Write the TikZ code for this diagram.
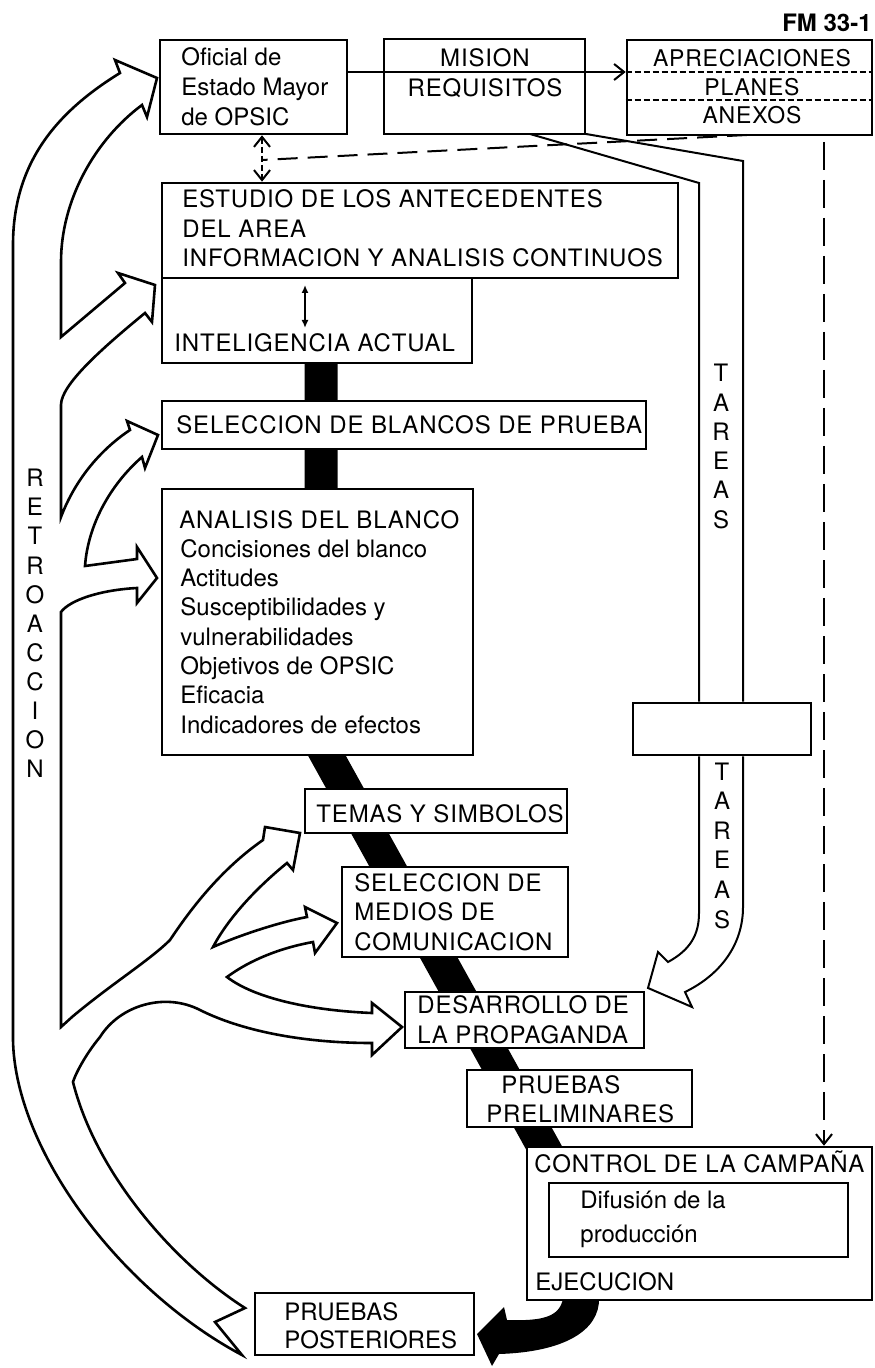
\documentclass[tikz,border=0pt]{standalone}
\usepackage{fontspec}
\setmainfont{TeX Gyre Heros}
\newfontfamily\capsfont[LetterSpace=3.5]{TeX Gyre Heros}
\newfontfamily\mixfont{TeX Gyre Heros}
\usetikzlibrary{arrows.meta,fit}
\begin{document}
\begin{tikzpicture}[x=0.5pt, y=-0.5pt]
\tikzset{>={Straight Barb[length=5pt,width=8pt,line width=1pt]}}
\tikzset{box/.style={draw, line width=1.3pt, fill=white, inner sep=0pt},
  captext/.style={anchor=base west, inner sep=0pt, font=\capsfont\fontsize{12}{14}\selectfont},
  mixtext/.style={anchor=base west, inner sep=0pt, font=\mixfont\fontsize{12}{14}\selectfont},
  feed/.style={draw, line width=1.3pt, fill=white, line join=miter},
  tline/.style={line width=1pt},
  dlong/.style={line width=1pt, dash pattern=on 10pt off 5pt},
  dvert/.style={line width=1pt, dash pattern=on 14pt off 5pt},
  dshort/.style={line width=0.8pt, dash pattern=on 3pt off 1.5pt}}
\useasboundingbox (0,0) rectangle (874,1368);
\draw[line width=16.5pt] (321,350) -- (321,745) -- (548,1155);
\fill (563,1298) .. controls (560,1318) and (540,1321) .. (507,1320) -- (504,1307) -- (477,1334) -- (492,1366) -- (499,1354) .. controls (565,1352) and (600,1330) .. (599,1298) -- cycle;
\node[box, fit={(160,40) (347,134)}] (oficial) {};
\node[box, fit={(384,39) (585,134)}] (mision) {};
\node[box, fit={(627,40) (872,135)}] (aprec) {};
\node[box, fit={(162,183) (678,278)}] (estudio) {};
\node[box, fit={(162,278) (472,363)}] (intel) {};
\node[box, fit={(162,401) (646,449)}] (blancos) {};
\node[box, fit={(162,489) (473,755)}] (analisis) {};
\node[box, fit={(633,703) (811,755)}] (tbox) {};
\node[box, fit={(305,789) (567,833)}] (temas) {};
\node[box, fit={(342,867) (568,957)}] (medios) {};
\node[box, fit={(405,992) (644,1048)}] (desarrollo) {};
\node[box, fit={(467,1070) (692,1127)}] (prelim) {};
\node[box, fit={(527,1147) (872,1300)}] (control) {};
\node[box, fit={(549,1183) (848,1257)}] (difusion) {};
\node[box, fit={(255,1293) (474,1355)}] (poster) {};
\coordinate (mrow) at (0,72);
\coordinate (prow) at (0,100);
\draw[dshort] (aprec.west |- mrow) -- (aprec.east |- mrow);
\draw[dshort] (aprec.west |- prow) -- (aprec.east |- prow);
\node[captext, anchor=base east, font=\bfseries\fontsize{12}{14}\selectfont] (fm) at (872,32) {FM 33-1};
\foreach \t [count=\i from 0] in {Oficial de, Estado Mayor, de OPSIC}
  \node[mixtext] (of\i) at (181, 66+30*\i) {\t};
\node[captext, anchor=base] (mi0) at (485,67) {MISION};
\node[captext, anchor=base] (mi1) at (485,97) {REQUISITOS};
\foreach \t [count=\i from 0] in {APRECIACIONES, PLANES, ANEXOS}
  \node[captext, anchor=base, font=\capsfont\fontsize{11.5}{14}\selectfont] (ap\i) at (752, 67+28.5*\i) {\t};
\foreach \t [count=\i from 0] in {ESTUDIO DE LOS ANTECEDENTES, DEL AREA, INFORMACION Y ANALISIS CONTINUOS}
  \node[captext] (es\i) at (182, 208+29.5*\i) {\t};
\node[captext] (in0) at (174,352) {INTELIGENCIA ACTUAL};
\node[captext] (bl0) at (176,434) {SELECCION DE BLANCOS DE PRUEBA};
\node[captext] (an0) at (179,528) {ANALISIS DEL BLANCO};
\foreach \t [count=\i] in {Concisiones del blanco, Actitudes, Susceptibilidades y, vulnerabilidades, Objetivos de OPSIC, Eficacia, Indicadores de efectos}
  \node[mixtext] (an\i) at (180, 528+29.3*\i) {\t};
\node[captext] (te0) at (316,822) {TEMAS Y SIMBOLOS};
\foreach \t [count=\i from 0] in {SELECCION DE, MEDIOS DE, COMUNICACION}
  \node[captext] (me\i) at (354, 891+29.5*\i) {\t};
\node[captext] (de0) at (417,1013) {DESARROLLO DE};
\node[captext] (de1) at (417,1043) {LA PROPAGANDA};
\node[captext] (pr0) at (501,1093) {PRUEBAS};
\node[captext] (pr1) at (486,1122) {PRELIMINARES};
\node[captext] (co0) at (534,1172) {CONTROL DE LA CAMPAÑA};
\node[mixtext] (di0) at (580,1208) {Difusión de la};
\node[mixtext] (di1) at (580,1242) {producción};
\node[mixtext] (co1) at (535,1290) {EJECUCION};
\node[mixtext] (po0) at (284,1320) {PRUEBAS};
\node[mixtext] (po1) at (284,1348) {POSTERIORES};
\draw[tline, ->] (oficial.east |- mrow) -- (aprec.west |- mrow);
\coordinate (dj) at (262,160);
\coordinate (da) at (747,135);
\coordinate (dr) at (824,142);
\draw[dshort, line width=1pt, <->] (oficial.south -| dj) -- (estudio.north -| dj);
\draw[dlong] (da) -- (dj);
\draw[dvert, ->] (dr) -- (control.north -| dr);
\coordinate (ia) at (305,285);
\coordinate (ib) at (305,328);
\draw[tline, {Latex[length=4pt,width=3.5pt]}-{Latex[length=4pt,width=3.5pt]}] (ia) -- (ib);
\coordinate (tl1) at (530,134);
\coordinate (tl2) at (699,183);
\coordinate (tr1) at (586,134);
\coordinate (tr2) at (743,161);
\draw[tline] (tl1) -- (tl2) -- (tbox.north -| tl2);
\draw[tline] (tr1) -- (tr2) -- (tbox.north -| tr2);
\draw[tline, line join=miter] (tbox.south -| tl2) -- (699,913) .. controls (699,935) and (690,950) .. (668,962) -- (658,952) -- (648,988) -- (692,1007) -- (685,992) .. controls (720,975) and (743,945) .. (743,907) -- (tbox.south -| tr2);
\draw[feed]
 (242,1355) .. controls (120,1290) and (15,1150) .. (13,1040)
 -- (13,245) .. controls (13,160) and (60,110) .. (120,73)
 -- (115,60) -- (157,78) -- (147,117) -- (142,105)
 .. controls (95,140) and (61,200) .. (61,262)
 -- (61,337) -- (125,283) -- (118,273) -- (155,285) -- (152,322) -- (145,313)
 .. controls (100,350) and (61,385) .. (61,405)
 -- (61,517) .. controls (75,480) and (100,450) .. (130,430)
 -- (127,421) -- (158,435) -- (145,468) -- (142,457)
 .. controls (110,485) and (88,525) .. (85,566)
 -- (137,559) -- (137,547) -- (157,578) -- (137,603) -- (137,588)
 .. controls (100,590) and (70,600) .. (61,612)
 -- (61,1027) -- (72,1017) .. controls (110,985) and (150,960) .. (170,940)
 .. controls (190,910) and (220,870) .. (263,840)
 -- (265,827) -- (300,833) -- (293,870) -- (287,863)
 .. controls (260,885) and (230,915) .. (213,947)
 .. controls (240,935) and (280,922) .. (307,917)
 -- (305,907) -- (337,923) -- (315,953) -- (313,942)
 .. controls (280,948) and (250,960) .. (227,977)
 .. controls (250,995) and (300,1010) .. (372,1013)
 -- (372,1003) -- (402,1027) -- (372,1055) -- (372,1043)
 .. controls (300,1043) and (240,1030) .. (200,1010)
 .. controls (165,992) and (120,1005) .. (100,1037)
 .. controls (85,1055) and (75,1075) .. (73,1082)
 .. controls (95,1170) and (170,1260) .. (245,1308)
 -- (215,1322) -- cycle;
\foreach \c [count=\i from 0] in {R,E,T,R,O,A,C,C,I,O,N}
  \node[captext, anchor=base] (rt\i) at (35, 487+29*\i) {\c};
\foreach \c [count=\i from 0] in {T,A,R,E,A,S} {
  \node[captext, anchor=base] (ta\i) at (721, 382+29.2*\i) {\c};
  \node[captext, anchor=base] (tb\i) at (722, 780+29.6*\i) {\c};
}
\end{tikzpicture}
\end{document}
